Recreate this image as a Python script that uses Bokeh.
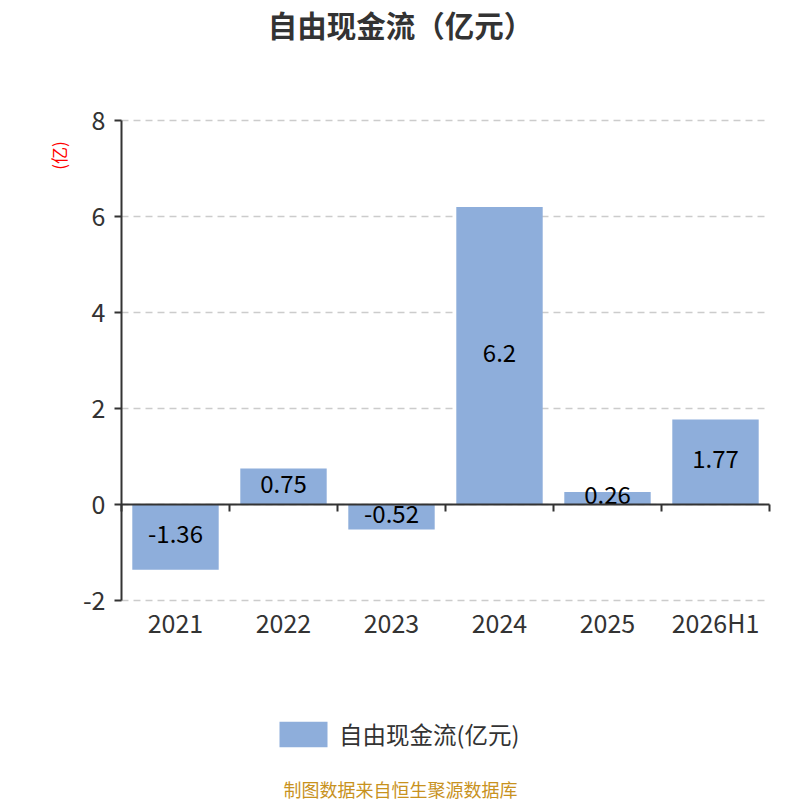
import math
from bokeh.plotting import figure
from bokeh.models import (ColumnDataSource, FixedTicker, LinearAxis, Range1d,
                          Label, Legend, LegendItem)
from bokeh.core.properties import value
from bokeh.embed import file_html
from bokeh.resources import INLINE

categories = ["2021", "2022", "2023", "2024", "2025", "2026H1"]
values = [-1.36, 0.75, -0.52, 6.2, 0.26, 1.77]
value_labels = ["-1.36", "0.75", "-0.52", "6.2", "0.26", "1.77"]
y_ticks = [-2, 0, 2, 4, 6, 8]
y_tick_labels = ["-2", "0", "2", "4", "6", "8"]

FONT = "Noto Sans CJK SC"
BAR = "#8EAEDB"
TXT = "#333333"

n = len(categories)
xs = [i + 0.5 for i in range(n)]
src = ColumnDataSource(dict(x=xs, top=values, mid=[v / 2 for v in values],
                            lab=value_labels))

# layout: plot area in canvas pixels (the frame fills the whole canvas)
W, H = 800, 800
PL, PR, PT, PB = 121, 769, 120, 600
ymin, ymax = y_ticks[0], y_ticks[-1]
sx = (PR - PL) / n
sy = (PB - PT) / (ymax - ymin)

p = figure(width=W, height=H, output_backend="svg", toolbar_location=None,
           x_range=Range1d(-PL / sx, n + (W - PR) / sx),
           y_range=Range1d(ymin - (H - PB) / sy, ymax + PT / sy),
           x_axis_location=None, y_axis_location=None,
           min_border=0, outline_line_color=None)
for g in p.grid:
    g.visible = False

# dashed horizontal grid lines across the plot area
p.segment(x0=[0] * len(y_ticks), x1=[n] * len(y_ticks), y0=y_ticks, y1=y_ticks,
          line_color="#CCCCCC", line_width=1.5, line_dash="7 5")

r = p.vbar(x="x", top="top", bottom=0, width=0.8, source=src,
           fill_color=BAR, line_color=None)
p.text(x="x", y="mid", text="lab", source=src, text_align="center",
       text_baseline="middle", text_font=value(FONT), text_font_size="24px",
       text_color="#000000", y_offset=-3)

# category labels along the bottom of the plot area
xa = LinearAxis(fixed_location=ymin, bounds=(0, n), ticker=FixedTicker(ticks=xs),
                major_label_overrides={x: c for x, c in zip(xs, categories)},
                axis_line_color=None, major_tick_line_color=None,
                minor_tick_line_color=None, major_tick_out=0, major_tick_in=0,
                major_label_standoff=3, major_label_text_font=FONT,
                major_label_text_font_size="25px", major_label_text_color=TXT)
p.add_layout(xa, "below")

# zero-line axis with boundary ticks
za = LinearAxis(fixed_location=0, bounds=(0, n),
                ticker=FixedTicker(ticks=list(range(n + 1))),
                major_label_text_alpha=0, major_label_text_font_size="1px",
                axis_line_color=TXT, axis_line_width=2,
                major_tick_line_color=TXT, major_tick_line_width=2,
                major_tick_out=7, major_tick_in=0, minor_tick_line_color=None)
p.add_layout(za, "below")

ya = LinearAxis(fixed_location=0, bounds=(ymin, ymax),
                ticker=FixedTicker(ticks=y_ticks),
                major_label_overrides={t: s for t, s in zip(y_ticks, y_tick_labels)},
                axis_line_color=TXT, axis_line_width=2,
                major_tick_line_color=TXT, major_tick_line_width=2,
                major_tick_out=7, major_tick_in=0, minor_tick_line_color=None,
                major_label_standoff=9, major_label_text_font=FONT,
                major_label_text_font_size="25px", major_label_text_color=TXT)
p.add_layout(ya, "left")


def lab(px, py, text, **kw):
    # positions in canvas pixels from the top-left corner
    p.add_layout(Label(x=px, y=H - py, x_units="screen", y_units="screen",
                       text=text, text_baseline="middle", text_font=FONT, **kw))


lab(400, 23, "自由现金流（亿元）", text_align="center", text_font_size="29.5px",
    text_font_style="bold", text_color=TXT)
lab(58, 155, "(亿)", angle=math.pi / 2, text_align="center",
    text_font_size="17px", text_color="#FF0000")
lab(400, 788, "制图数据来自恒生聚源数据库", text_align="center",
    text_font_size="18px", text_color="#C8921E")

legend = Legend(items=[LegendItem(label="自由现金流(亿元)", renderers=[r])],
                location=(273, H - 751), orientation="horizontal",
                glyph_width=60, glyph_height=32, label_height=32,
                label_standoff=6, padding=0, margin=0, border_line_color=None,
                background_fill_alpha=0, label_text_font=FONT,
                label_text_font_size="23.5px", label_text_color=TXT)
p.add_layout(legend, "center")

open("out.html", "w").write(file_html(p, INLINE))
